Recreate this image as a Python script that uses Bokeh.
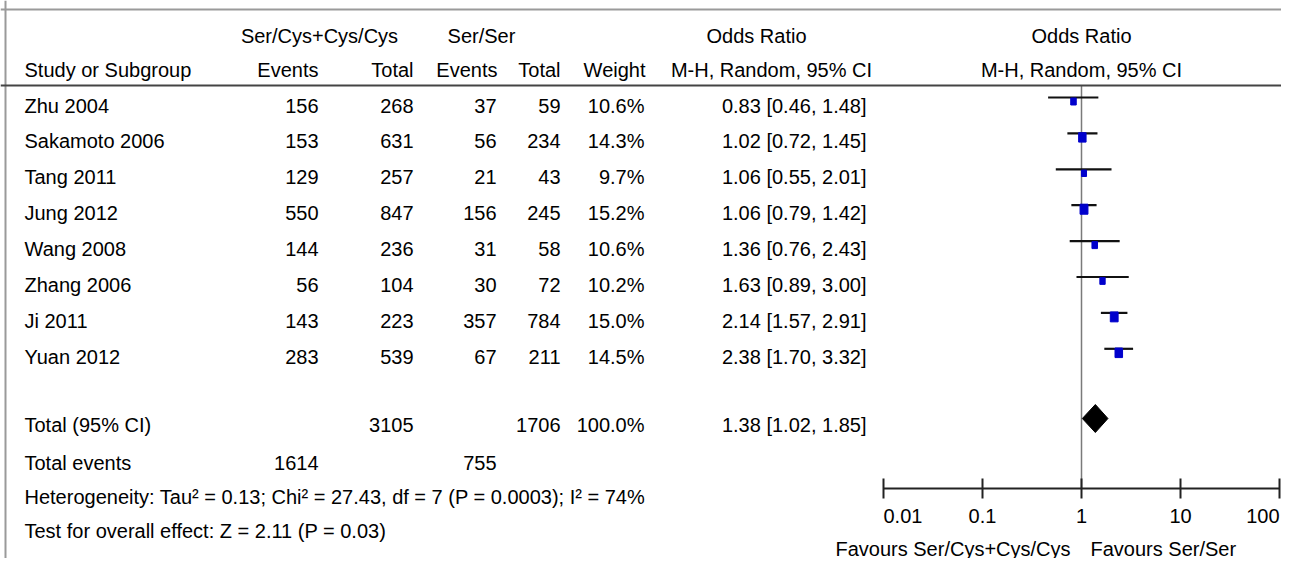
from bokeh.plotting import figure
from bokeh.models import Range1d, LogScale, LogAxis, FixedTicker, Span, CustomJSTickFormatter
from bokeh.core.properties import value
from bokeh.embed import file_html
from bokeh.resources import INLINE

# ---------------- data ----------------
studies = ["Zhu 2004", "Sakamoto 2006", "Tang 2011", "Jung 2012",
           "Wang 2008", "Zhang 2006", "Ji 2011", "Yuan 2012"]
exp_events = [156, 153, 129, 550, 144, 56, 143, 283]
exp_total = [268, 631, 257, 847, 236, 104, 223, 539]
ctl_events = [37, 56, 21, 156, 31, 30, 357, 67]
ctl_total = [59, 234, 43, 245, 58, 72, 784, 211]
weights = [10.6, 14.3, 9.7, 15.2, 10.6, 10.2, 15.0, 14.5]
odds = [0.83, 1.02, 1.06, 1.06, 1.36, 1.63, 2.14, 2.38]
ci_low = [0.46, 0.72, 0.55, 0.79, 0.76, 0.89, 1.57, 1.70]
ci_high = [1.48, 1.45, 2.01, 1.42, 2.43, 3.00, 2.91, 3.32]

total_exp = 3105
total_ctl = 1706
total_weight = 100.0
total_events_exp = 1614
total_events_ctl = 755
pooled_or = 1.38
pooled_low = 1.02
pooled_high = 1.85

axis_ticks = [0.01, 0.1, 1, 10, 100]
axis_tick_labels = ["0.01", "0.1", "1", "10", "100"]

group1 = "Ser/Cys+Cys/Cys"
group2 = "Ser/Ser"
heterogeneity = "Heterogeneity: Tau\u00b2 = 0.13; Chi\u00b2 = 27.43, df = 7 (P = 0.0003); I\u00b2 = 74%"
overall = "Test for overall effect: Z = 2.11 (P = 0.03)"
favours_left = "Favours Ser/Cys+Cys/Cys"
favours_right = "Favours Ser/Ser"

# ---------------- layout ----------------
W, H = 1281, 558
FONT = "Liberation Sans"
FS = "20px"
TXT = "#000000"

p = figure(width=W, height=H, x_range=Range1d(0, W), y_range=Range1d(H, 0),
           output_backend="svg", toolbar_location=None, min_border=0,
           x_axis_location=None, y_axis_location=None)
p.grid.visible = False
p.outline_line_color = None
p.background_fill_color = "white"

# log scale for the forest part: 0.01 at x=883, 100 at x=1279
x001, x100 = 883, 1279
dec = (x100 - x001) / 4.0
log_start = 10 ** (-2 - x001 / dec)
log_end = 10 ** (2 + (W - x100) / dec)
p.extra_x_ranges = {"or": Range1d(log_start, log_end)}
p.extra_x_scales = {"or": LogScale()}


def txt(xs, ys, texts, align="left", **kw):
    p.text(x=xs, y=ys, text=texts, text_align=align, text_baseline="middle",
           text_font=value(FONT), text_font_size=FS, text_color=TXT, **kw)


# borders and header rule
p.add_layout(Span(location=9, dimension="width", line_color="#9a9a9a", line_width=2))
p.add_layout(Span(location=5, dimension="height", line_color="#9a9a9a", line_width=2))
p.add_layout(Span(location=85, dimension="width", line_color="#444444", line_width=2))

# header
txt([319], [35], [group1], "center")
txt([481], [35], [group2], "center")
txt([756], [35], ["Odds Ratio"], "center")
txt([1], [35], ["Odds Ratio"], "center", x_range_name="or")
txt([24], [69], ["Study or Subgroup"], "left")
txt([318, 413, 497, 560, 645], [69] * 5, ["Events", "Total", "Events", "Total", "Weight"], "right")
txt([771], [69], ["M-H, Random, 95% CI"], "center")
txt([1], [69], ["M-H, Random, 95% CI"], "center", x_range_name="or")

# study rows
row_y = [105 + 35.9 * i for i in range(len(studies))]
txt([24] * len(studies), row_y, studies, "left")
txt([318] * len(studies), row_y, [str(v) for v in exp_events], "right")
txt([413] * len(studies), row_y, [str(v) for v in exp_total], "right")
txt([496] * len(studies), row_y, [str(v) for v in ctl_events], "right")
txt([560] * len(studies), row_y, [str(v) for v in ctl_total], "right")
txt([644] * len(studies), row_y, ["%.1f%%" % w for w in weights], "right")
txt([866] * len(studies), row_y,
    ["%.2f [%.2f, %.2f]" % (o, l, h) for o, l, h in zip(odds, ci_low, ci_high)], "right")

# totals
ty = 424
txt([24], [ty], ["Total (95% CI)"], "left")
txt([413], [ty], [str(total_exp)], "right")
txt([560], [ty], [str(total_ctl)], "right")
txt([644], [ty], ["%.1f%%" % total_weight], "right")
txt([866], [ty], ["%.2f [%.2f, %.2f]" % (pooled_or, pooled_low, pooled_high)], "right")
txt([24], [462], ["Total events"], "left")
txt([318], [462], [str(total_events_exp)], "right")
txt([496], [462], [str(total_events_ctl)], "right")
txt([24], [496], [heterogeneity], "left")
txt([24], [530], [overall], "left")

# forest plot
axis_y = 488
p.segment(x0=[1], x1=[1], y0=[85], y1=[axis_y], x_range_name="or",
          line_color="#7a7a7a", line_width=1.5)
ci_y = [y - 8 for y in row_y]
sq_y = [y - 4 for y in row_y]
p.segment(x0=ci_low, x1=ci_high, y0=ci_y, y1=ci_y, x_range_name="or",
          line_color="#111111", line_width=2.2)
p.rect(x=odds, y=sq_y, width=[0.52 * w for w in weights], height=[0.66 * w for w in weights],
       width_units="screen", height_units="screen", x_range_name="or",
       fill_color="#0000cc", line_color="#0000cc")
p.patch(x=[pooled_low, pooled_or, pooled_high, pooled_or], y=[418, 404, 418, 432],
        x_range_name="or", fill_color="black", line_color="black")

ax = LogAxis(x_range_name="or", ticker=FixedTicker(ticks=axis_ticks), bounds=(0.01, 100),
             fixed_location=axis_y, major_tick_in=10, major_tick_out=10,
             minor_tick_in=0, minor_tick_out=0, axis_line_width=2, major_tick_line_width=2,
             axis_line_color="#222222", major_tick_line_color="#222222",
             formatter=CustomJSTickFormatter(code="return ''"))
p.add_layout(ax, "below")

txt(axis_ticks[:1], [515], axis_tick_labels[:1], "left", x_range_name="or")
txt(axis_ticks[1:4], [515] * 3, axis_tick_labels[1:4], "center", x_range_name="or")
txt(axis_ticks[4:], [515], axis_tick_labels[4:], "right", x_range_name="or")

txt([1], [548], [favours_left], "right", x_range_name="or", x_offset=-11)
txt([1], [548], [favours_right], "left", x_range_name="or", x_offset=9)

open("out.html", "w").write(file_html(p, INLINE))
